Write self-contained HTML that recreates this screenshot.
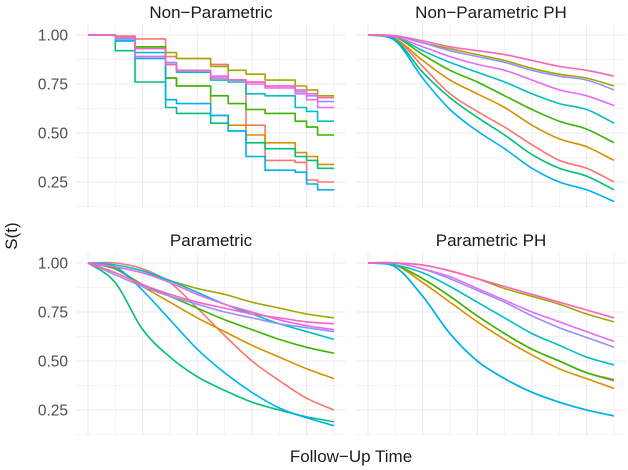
<!DOCTYPE html>
<html><head><meta charset="utf-8"><style>
body{margin:0;background:#fff;}
svg{display:block;font-family:"Liberation Sans",sans-serif;}
</style></head><body>
<svg id="c" width="628" height="470" xmlns="http://www.w3.org/2000/svg"></svg>
<script>
const colors=["#F8766D","#D89000","#A3A500","#39B600","#00BF7D","#00BFC4","#00B0F6","#9590FF","#E76BF3","#FF62BC"];
const seriesNames=["s1","s2","s3","s4","s5","s6","s7","s8","s9","s10"];
const timePoints=[0,1,2,3,4,5,6,7,8,9];
const stepTimes=[0,1,1.72,2.84,3.24,4.49,5.13,5.78,6.48,7.58,8.0,8.4,9];
const yTicks=[1.00,0.75,0.50,0.25];
const yTickLabels=["1.00","0.75","0.50","0.25"];
const npValues=[
[1,.995,.98,.89,.88,.85,.77,.54,.36,.35,.26,.25],
[1,.99,.93,.78,.74,.59,.54,.49,.45,.40,.38,.34],
[1,.99,.94,.91,.88,.84,.82,.80,.77,.74,.72,.69],
[1,.98,.94,.78,.74,.69,.65,.62,.60,.56,.53,.49],
[1,.92,.76,.63,.60,.55,.51,.45,.42,.38,.36,.32],
[1,.97,.91,.85,.81,.77,.76,.70,.69,.63,.61,.56],
[1,.97,.88,.67,.65,.59,.51,.38,.31,.30,.24,.21],
[1,.98,.89,.86,.82,.79,.77,.76,.74,.71,.69,.66],
[1,.99,.89,.85,.82,.79,.77,.75,.73,.70,.67,.63],
[1,.99,.93,.85,.82,.78,.77,.76,.74,.72,.70,.68]];
const npphValues=[
[1,.98,.84,.70,.61,.53,.44,.36,.32,.25],
[1,.98,.87,.77,.70,.63,.54,.47,.43,.36],
[1,.995,.96,.93,.90,.87,.83,.80,.78,.74],
[1,.99,.90,.82,.76,.69,.62,.56,.52,.45],
[1,.975,.81,.68,.58,.49,.39,.32,.28,.21],
[1,.99,.92,.86,.81,.76,.70,.65,.62,.55],
[1,.97,.78,.62,.51,.42,.32,.25,.21,.15],
[1,.995,.96,.92,.89,.86,.82,.79,.77,.72],
[1,.99,.94,.89,.85,.82,.77,.72,.69,.64],
[1,.996,.97,.94,.92,.90,.87,.84,.82,.79]];
const parValues=[
[1,1.0,.97,.90,.77,.63,.50,.40,.31,.25],
[1,.97,.88,.80,.72,.65,.58,.52,.46,.41],
[1,.98,.95,.91,.87,.84,.80,.77,.74,.72],
[1,.97,.89,.83,.77,.71,.66,.61,.57,.54],
[1,.90,.66,.52,.42,.35,.29,.25,.215,.19],
[1,.99,.96,.91,.85,.79,.74,.69,.65,.61],
[1,.98,.86,.71,.56,.44,.34,.26,.21,.17],
[1,.94,.88,.83,.79,.75,.72,.69,.67,.65],
[1,.98,.95,.90,.84,.79,.75,.71,.68,.66],
[1,.95,.89,.84,.80,.77,.74,.72,.70,.69]];
const phValues=[
[1,.99,.92,.83,.73,.64,.56,.50,.44,.405],
[1,.99,.90,.80,.70,.61,.53,.46,.41,.36],
[1,1,.99,.96,.92,.87,.83,.79,.74,.70],
[1,.99,.92,.83,.73,.64,.56,.50,.44,.40],
[1,.98,.83,.64,.50,.41,.34,.29,.25,.22],
[1,.99,.95,.88,.80,.72,.64,.58,.52,.48],
[1,.98,.83,.64,.50,.41,.34,.29,.25,.22],
[1,1,.97,.92,.86,.80,.73,.67,.62,.57],
[1,1,.97,.93,.87,.81,.75,.70,.65,.60],
[1,1,.99,.96,.92,.88,.84,.80,.76,.72]];

const NS="http://www.w3.org/2000/svg";
const svg=document.getElementById('c');
function mk(tag,attrs,parent){const e=document.createElementNS(NS,tag);for(const k in attrs)e.setAttribute(k,attrs[k]);(parent||svg).appendChild(e);return e;}
const panels=[
{title:"Non\u2212Parametric",x0:76,y0:25,key:"np",left:true,name:"panel-non-parametric"},
{title:"Non\u2212Parametric PH",x0:356,y0:25,key:"npph",left:false,name:"panel-non-parametric-ph"},
{title:"Parametric",x0:76,y0:253,key:"par",left:true,name:"panel-parametric"},
{title:"Parametric PH",x0:356,y0:253,key:"ph",left:false,name:"panel-parametric-ph"}];
const W=270,H=183;
panels.forEach(p=>{
  const g=mk('g',{});
  
  
  const xs=t=>p.x0+12+t*27.33;
  const ys=s=>p.y0+10+(1-s)*196;
  // grid
  for(let v=0.125;v<=1.01;v+=0.125){
    const major=Math.abs(v*4-Math.round(v*4))<1e-6;
    mk('line',{x1:p.x0,x2:p.x0+W,y1:ys(v),y2:ys(v),stroke:"#ebebeb","stroke-width":major?1.1:0.55},g);
  }
  timePoints.forEach((t,i)=>{
    mk('line',{x1:xs(t),x2:xs(t),y1:p.y0,y2:p.y0+H,stroke:"#ebebeb","stroke-width":i%2==0?1.1:0.55},g);
  });
  const tt=mk('text',{x:p.x0+W/2,y:p.y0-7,"text-anchor":"middle","font-size":"17px",fill:"#1a1a1a"},g);
  tt.textContent=p.title;
  
  
  if(p.left){
    yTicks.forEach((v,i)=>{
      const l=mk('text',{x:p.x0-8,y:ys(v)+5.5,"text-anchor":"end","font-size":"15.5px",fill:"#4d4d4d"},g);
      l.textContent=yTickLabels[i];
      
      
    });
  }
  const data={np:npValues,npph:npphValues,par:parValues,ph:phValues}[p.key];
  data.forEach((vals,si)=>{
    let d="";
    if(p.key==="np"){
      for(let k=0;k<vals.length;k++){
        const a=xs(stepTimes[k]),b=xs(stepTimes[k+1]),y=ys(vals[k]);
        d+=(k===0?"M":"L")+a.toFixed(1)+","+y.toFixed(1)+"L"+b.toFixed(1)+","+y.toFixed(1);
      }
    }else{
      const pts=vals.map((v,k)=>[xs(timePoints[k]),ys(v)]);
      d="M"+pts[0][0]+","+pts[0][1];
      for(let k=0;k<pts.length-1;k++){
        const p0=pts[Math.max(k-1,0)],p1=pts[k],p2=pts[k+1],p3=pts[Math.min(k+2,pts.length-1)];
        const c1=[p1[0]+(p2[0]-p0[0])/6,p1[1]+(p2[1]-p0[1])/6];
        const c2=[p2[0]-(p3[0]-p1[0])/6,p2[1]-(p3[1]-p1[1])/6];
        d+="C"+c1[0].toFixed(1)+","+c1[1].toFixed(1)+" "+c2[0].toFixed(1)+","+c2[1].toFixed(1)+" "+p2[0].toFixed(1)+","+p2[1].toFixed(1);
      }
    }
    const path=mk('path',{d:d,fill:"none",stroke:colors[si],"stroke-width":1.6,"stroke-linejoin":"round"},g);
    
    
  });
});
const yl=mk('text',{x:0,y:0,transform:"translate(17,236) rotate(-90)","text-anchor":"middle","font-size":"17px",fill:"#1a1a1a"});
yl.textContent="S(t)";


const xl=mk('text',{x:351,y:462,"text-anchor":"middle","font-size":"17px",fill:"#1a1a1a"});
xl.textContent="Follow\u2212Up Time";


</script>
</body></html>
